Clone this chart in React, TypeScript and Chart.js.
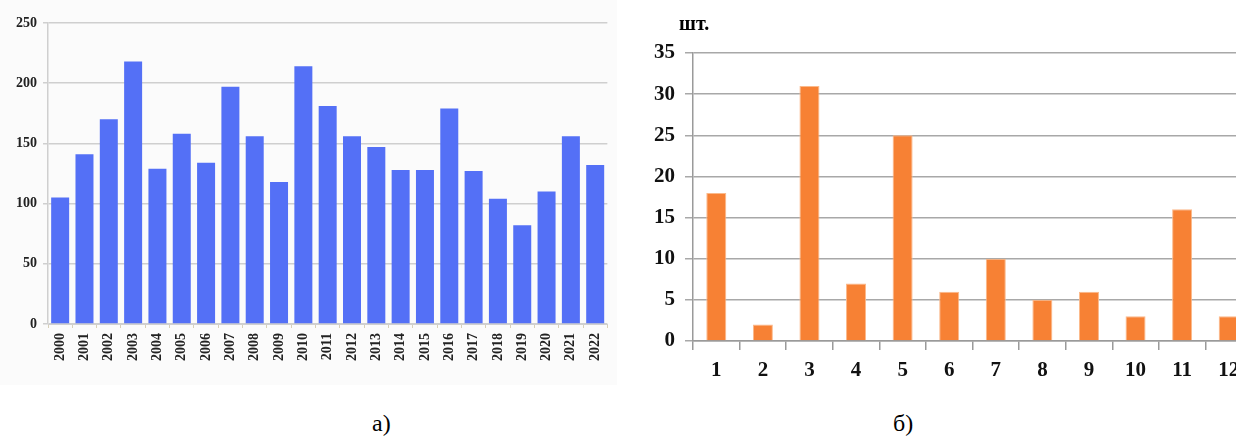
import React, { useEffect, useRef } from "react";
import { Chart, registerables } from "chart.js";

Chart.register(...registerables);

const yearLabels = ["2000","2001","2002","2003","2004","2005","2006","2007","2008","2009","2010","2011","2012","2013","2014","2015","2016","2017","2018","2019","2020","2021","2022"];
const yearValues = [105,141,170,218,129,158,134,197,156,118,214,181,156,147,128,128,179,127,104,82,110,156,132];

const monthLabels = ["1","2","3","4","5","6","7","8","9","10","11","12"];
const monthValues = [18,2,31,7,25,6,10,5,6,3,16,3];

const SERIF = "'Liberation Serif', 'Times New Roman', serif";

function LeftChart() {
  const ref = useRef<HTMLCanvasElement>(null);
  useEffect(() => {
    const chart = new Chart(ref.current!, {
      type: "bar",
      data: {
        labels: yearLabels,
        datasets: [{ data: yearValues, backgroundColor: "#5470f6", barPercentage: 0.74, categoryPercentage: 1 }],
      },
      options: {
        animation: false,
        responsive: false,
        layout: { padding: { top: 23, right: 0, left: 0, bottom: 0 } },
        plugins: { legend: { display: false }, tooltip: { enabled: false } },
        scales: {
          x: {
            grid: { drawOnChartArea: false, drawTicks: true, tickLength: 4, color: "#d8d0b8", offset: true },
            border: { color: "#d0d0d0" },
            ticks: { minRotation: 90, maxRotation: 90, autoSkip: false, padding: 5, color: "#222", font: { family: SERIF, size: 14, weight: "bold" } },
            afterFit: (s: any) => { s.height = 61; },
          },
          y: {
            min: 0, max: 250,
            ticks: { stepSize: 50, padding: 6, color: "#222", font: { family: SERIF, size: 14, weight: "bold" } },
            grid: { color: "#cfcfcf", lineWidth: 1.5, tickLength: 5 },
            border: { color: "#cfcfcf", width: 1.5 },
            afterFit: (s: any) => { s.width = 48; },
          },
        },
      },
    });
    return () => chart.destroy();
  }, []);
  return <canvas ref={ref} width={617} height={385} style={{ position: "absolute", left: 0, top: 0, background: "#fbfbfb" }} />;
}

function RightChart() {
  const ref = useRef<HTMLCanvasElement>(null);
  useEffect(() => {
    const chart = new Chart(ref.current!, {
      type: "bar",
      data: {
        labels: monthLabels,
        datasets: [{ data: monthValues, backgroundColor: "#f78134", borderColor: "#fbb98a", borderWidth: 1, barPercentage: 0.43, categoryPercentage: 1 }],
      },
      options: {
        animation: false,
        responsive: false,
        layout: { padding: { top: 53, right: 8, left: 0, bottom: 0 } },
        plugins: { legend: { display: false }, tooltip: { enabled: false } },
        scales: {
          x: {
            grid: { drawOnChartArea: false, drawTicks: true, tickLength: 9, color: "#9a9a9a", lineWidth: 1.5, offset: true },
            border: { color: "#9a9a9a", width: 1.5 },
            ticks: { autoSkip: false, padding: 8, color: "#111", font: { family: SERIF, size: 21, weight: "bold" } },
            afterFit: (s: any) => { s.height = 59; },
          },
          y: {
            min: 0, max: 35,
            ticks: { stepSize: 5, padding: 10, color: "#111", font: { family: SERIF, size: 21, weight: "bold" } },
            grid: { color: "#a8a8a8", lineWidth: 1.5, tickLength: 8 },
            border: { color: "#9a9a9a", width: 1.5 },
            afterFit: (s: any) => { s.width = 73; },
          },
        },
      },
    });
    return () => chart.destroy();
  }, []);
  return <canvas ref={ref} width={640} height={400} style={{ position: "absolute", left: 620, top: 0 }} />;
}

export default function App() {
  return (
    <div style={{ position: "fixed", left: 0, top: 0, width: 1236, height: 441, overflow: "hidden", background: "#fff" }}>
      <LeftChart />
      <RightChart />
      <div style={{ position: "absolute", left: 679, top: 12, fontFamily: SERIF, fontWeight: "bold", fontSize: 20 }}>шт.</div>
      <div style={{ position: "absolute", left: 372, top: 410, fontFamily: SERIF, fontSize: 24 }}>а)</div>
      <div style={{ position: "absolute", left: 893, top: 410, fontFamily: SERIF, fontSize: 24 }}>б)</div>
    </div>
  );
}
